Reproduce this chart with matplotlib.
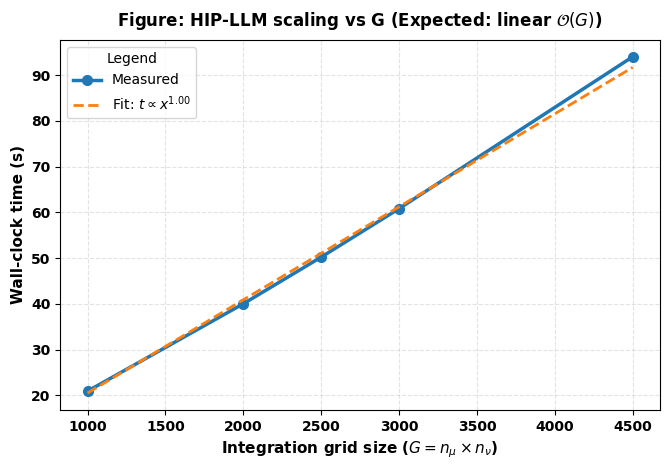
import numpy as np
import matplotlib
matplotlib.use("Agg")
import matplotlib.pyplot as plt

grid_sizes = [1000, 2000, 2500, 3000, 4500]
wall_times = [20.9, 40.0, 50.2, 60.8, 94.0]

# power-law fit t = a * x^b
b, loga = np.polyfit(np.log(grid_sizes), np.log(wall_times), 1)
x_fit = np.linspace(min(grid_sizes), max(grid_sizes), 200)
y_fit = np.exp(loga) * x_fit ** b

fig, ax = plt.subplots(figsize=(6.7, 4.7), dpi=100)
ax.plot(grid_sizes, wall_times, '-o', color='#1f77b4', lw=2.5, ms=7, label='Measured')
ax.plot(x_fit, y_fit, '--', color='#ff7f0e', lw=2, label=r'Fit: $t \propto x^{1.00}$')

ax.set_xlabel(r'Integration grid size ($G = n_\mu \times n_\nu$)', fontsize=11, fontweight='bold')
ax.set_ylabel('Wall-clock time (s)', fontsize=11, fontweight='bold')
ax.set_title(r'Figure: HIP-LLM scaling vs G (Expected: linear $\mathcal{O}(G)$)',
             fontsize=12, fontweight='bold', pad=10)
ax.set_xticks([1000, 1500, 2000, 2500, 3000, 3500, 4000, 4500])
ax.set_yticks([20, 30, 40, 50, 60, 70, 80, 90])
for lab in ax.get_xticklabels() + ax.get_yticklabels():
    lab.set_fontweight('bold')
ax.grid(True, linestyle='--', alpha=0.35)
ax.legend(title='Legend', loc='upper left', fontsize=10, title_fontsize=10)

fig.subplots_adjust(left=0.09, right=0.985, top=0.915, bottom=0.128)
fig.savefig('out.png', dpi=100)
